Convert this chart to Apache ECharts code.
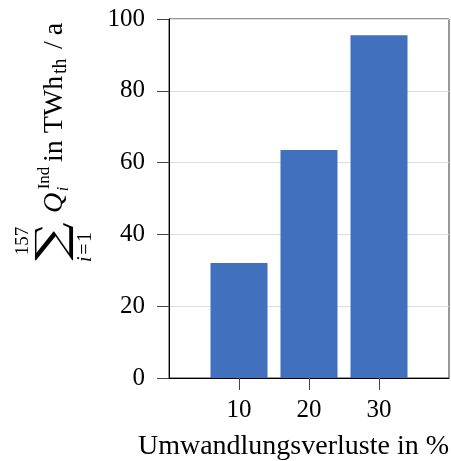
<!DOCTYPE html>
<html>
<head>
<meta charset="utf-8">
<script src="https://cdn.jsdelivr.net/npm/echarts@6/dist/echarts.min.js"></script>
<style>html,body{margin:0;padding:0;background:#fff}#c{width:451px;height:461px}</style>
</head>
<body>
<div id="c"></div>
<script>
var losses = [10, 20, 30];
var heatDemand = [32.0, 63.5, 95.5];
var xTicks = [10, 20, 30];
var yTicks = [0, 20, 40, 60, 80, 100];

var SERIF = '"Liberation Serif", "Times New Roman", serif';
var chart = echarts.init(document.getElementById('c'), null, {renderer: 'canvas'});

var barData = losses.map(function (x, i) { return [x, heatDemand[i]]; });

// y-axis label built as rotated group (reads bottom to top)
var ox = 64, oy = 270;
function t(x, y, text, font, align, extra) {
  var el = {type: 'text', x: x, y: y, style: {text: text, font: font, fill: '#000', align: align || 'center', verticalAlign: 'middle'}};
  if (extra) { for (var k in extra) el[k] = extra[k]; }
  return el;
}
var sumLower = t(23, 22, '{it|i}\u200A=\u200A1', '20px ' + SERIF);
sumLower.style.rich = {it: {fontStyle: 'italic', fontFamily: SERIF, fontSize: 20}};
var yLabel = {
  type: 'group',
  x: ox, y: oy,
  rotation: Math.PI / 2,
  silent: true,
  children: [
    t(28.5, -9.5, '\u2211', '42px "DejaVu Serif"', 'center', {scaleX: 1.28}),
    t(29, -41, '157', '19px ' + SERIF),
    sumLower,
    t(67, -9.5, 'Q', 'italic 28px ' + SERIF),
    t(92, -19, 'Ind', '17px ' + SERIF),
    t(81, 0, 'i', 'italic 16px ' + SERIF),
    t(108, -9.5, 'in TWh', '28px ' + SERIF, 'left'),
    t(196, -3, 'th', '20px ' + SERIF, 'left'),
    t(225, -9.5, '/', '28px ' + SERIF),
    t(241, -9.5, 'a', '28px ' + SERIF)
  ]
};

var option = {
  animation: false,
  backgroundColor: '#ffffff',
  grid: {left: 169, top: 19, width: 280, height: 359, show: true, borderColor: '#333', borderWidth: 1, containLabel: false},
  xAxis: {
    type: 'value', min: 0, max: 40, interval: 10,
    axisLine: {show: true, lineStyle: {color: '#000', width: 1}},
    axisTick: {show: true, length: 12, lineStyle: {color: '#444'}, customValues: xTicks},
    axisLabel: {margin: 20, fontFamily: SERIF, fontSize: 25, color: '#000', customValues: xTicks},
    splitLine: {show: false}
  },
  yAxis: {
    type: 'value', min: 0, max: 100, interval: 20,
    axisLine: {show: true, lineStyle: {color: '#000', width: 1}},
    axisTick: {show: true, length: 12, lineStyle: {color: '#444'}},
    axisLabel: {margin: 24, fontFamily: SERIF, fontSize: 25, color: '#000'},
    splitLine: {show: true, lineStyle: {color: '#dcdcdc', width: 1}}
  },
  series: [{
    type: 'bar',
    data: barData,
    barWidth: 57,
    itemStyle: {color: '#4170be'}
  }],
  graphic: [
    yLabel,
    {type: 'text', x: 449, y: 447, silent: true, style: {text: 'Umwandlungsverluste in %', font: '28px ' + SERIF, fill: '#000', align: 'right', verticalAlign: 'middle'}}
  ]
};
chart.setOption(option);
</script>
</body>
</html>
